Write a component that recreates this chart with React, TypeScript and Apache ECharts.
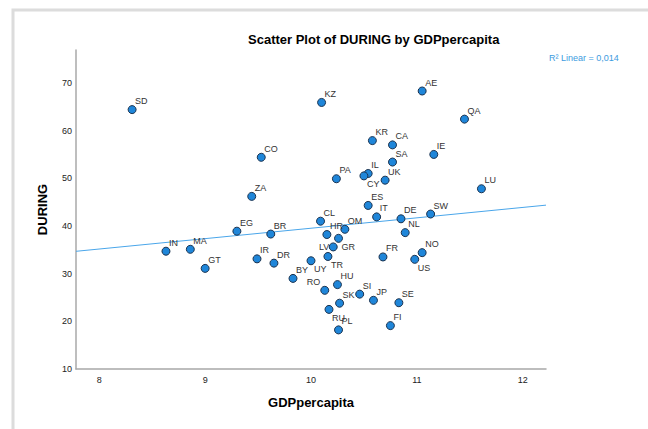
import React, { useEffect, useRef } from "react";
import * as echarts from "echarts";

const countryCodes = ["SD","CO","ZA","KZ","AE","QA","KR","CA","SA","IE","PA","IL","CY","UK","LU","ES","CL","IT","DE","SW","HR","OM","NL","BR","EG","IN","MA","GT","IR","DR","BY","UY","LV","GR","TR","FR","NO","US","HU","RO","SI","JP","SE","SK","RU","PL","FI"];
const gdpPerCapita = [8.31,9.53,9.44,10.10,11.05,11.45,10.58,10.77,10.77,11.16,10.24,10.54,10.50,10.70,11.61,10.54,10.09,10.62,10.85,11.13,10.15,10.32,10.89,9.62,9.30,8.63,8.86,9.00,9.49,9.65,9.83,10.00,10.21,10.26,10.16,10.68,11.05,10.98,10.25,10.13,10.46,10.59,10.83,10.27,10.17,10.26,10.75];
const during = [64.4,54.4,46.2,65.9,68.3,62.4,57.9,57.0,53.4,55.0,49.9,51.0,50.5,49.6,47.8,44.3,41.0,41.9,41.5,42.5,38.2,39.3,38.6,38.3,38.9,34.7,35.1,31.1,33.1,32.2,29.0,32.7,35.6,37.4,33.6,33.5,34.4,33.0,27.7,26.5,25.7,24.4,23.9,23.8,22.5,18.2,19.1];
const xTicks = [8, 9, 10, 11, 12];
const yTicks = [10, 20, 30, 40, 50, 60, 70];
const rSquaredText = "R² Linear = 0,014";

// label placement (style only)
const labelPlacement: Record<string, string> = {
  CY: "br", GR: "br", TR: "br", UY: "br", RU: "br", US: "br", LV: "l", RO: "tl",
};

const X_MIN = 7.78;
const X_MAX = 12.22;
const Y_MIN = 10;
const Y_MAX = 76.9;

function fit(xs: number[], ys: number[]) {
  const n = xs.length;
  const mx = xs.reduce((a, b) => a + b, 0) / n;
  const my = ys.reduce((a, b) => a + b, 0) / n;
  let sxy = 0, sxx = 0;
  for (let i = 0; i < n; i++) {
    sxy += (xs[i] - mx) * (ys[i] - my);
    sxx += (xs[i] - mx) ** 2;
  }
  const b = sxy / sxx;
  return { a: my - b * mx, b };
}

const FONT = "'Liberation Sans', Arial, sans-serif";

export default function App() {
  const ref = useRef<HTMLDivElement>(null);
  useEffect(() => {
    if (!ref.current) return;
    const chart = echarts.init(ref.current, undefined, { renderer: "svg" });
    const { a, b } = fit(gdpPerCapita, during);
    const pts = countryCodes.map((c, i) => {
      const p = labelPlacement[c] || "tr";
      let label: any = { position: "right", distance: 0, offset: [-1.5, -8.5] };
      if (p === "br") label = { position: "right", distance: 0, offset: [-1.5, 8.5] };
      if (p === "l") label = { position: "left", distance: 0, offset: [0.5, 0] };
      if (p === "tl") label = { position: "left", distance: 0, offset: [0, -8] };
      return { name: c, value: [gdpPerCapita[i], during[i]], label };
    });
    chart.setOption({
      animation: false,
      backgroundColor: "#fff",
      textStyle: { fontFamily: FONT },
      title: {
        text: "Scatter Plot of DURING by GDPpercapita",
        left: 243,
        top: 28,
        textStyle: { fontSize: 13, fontWeight: "bold", color: "#000", fontFamily: FONT },
      },
      graphic: [
        {
          type: "rect",
          shape: { x: 13, y: 10, width: 700, height: 500 },
          style: { fill: "none", stroke: "#dcdcdc", lineWidth: 3 },
          silent: true,
        },
        {
          type: "text",
          x: 549,
          y: 53,
          style: { text: rSquaredText, fill: "#3d9be0", fontSize: 9, fontFamily: FONT },
          silent: true,
        },
      ],
      grid: { left: 76, top: 50, right: 102, bottom: 60, containLabel: false },
      xAxis: {
        type: "value",
        min: X_MIN,
        max: X_MAX,
        splitNumber: xTicks.length,
        name: "GDPpercapita",
        nameLocation: "middle",
        nameGap: 27,
        nameTextStyle: { fontSize: 13, fontWeight: "bold", color: "#000", fontFamily: FONT },
        axisLine: { show: true, lineStyle: { color: "#a8a8a8", width: 1.5 } },
        axisTick: { show: false },
        splitLine: { show: false },
        axisLabel: {
          showMinLabel: false,
          showMaxLabel: false,
          fontSize: 9,
          color: "#222",
          margin: 6,
          formatter: (v: number) => (xTicks.includes(Math.round(v * 1000) / 1000) ? String(Math.round(v)) : ""),
        },
      },
      yAxis: {
        type: "value",
        min: Y_MIN,
        max: Y_MAX,
        interval: 10,
        name: "DURING",
        nameLocation: "middle",
        nameGap: 27,
        nameTextStyle: { fontSize: 13, fontWeight: "bold", color: "#000", fontFamily: FONT },
        axisLine: { show: true, lineStyle: { color: "#a8a8a8", width: 1.5 } },
        axisTick: { show: false },
        splitLine: { show: false },
        axisLabel: {
          showMaxLabel: false,
          fontSize: 9,
          color: "#222",
          margin: 4,
          formatter: (v: number) => (yTicks.includes(v) ? String(v) : ""),
        },
      },
      series: [
        {
          type: "line",
          data: [[X_MIN, a + b * X_MIN], [X_MAX, a + b * X_MAX]],
          symbol: "none",
          lineStyle: { color: "#4aa6ea", width: 1 },
          silent: true,
          z: 1,
        },
        {
          type: "scatter",
          data: pts,
          symbolSize: 8,
          itemStyle: { color: "#1f86d9", borderColor: "#1b3350", borderWidth: 1, opacity: 1 },
          label: {
            show: true,
            formatter: "{b}",
            fontSize: 9,
            color: "#333",
            fontFamily: FONT,
          },
          z: 3,
        },
      ],
    });
    return () => chart.dispose();
  }, []);
  return (
    <div
      ref={ref}
      style={{ position: "fixed", left: 0, top: 0, width: 648, height: 429 }}
    />
  );
}
